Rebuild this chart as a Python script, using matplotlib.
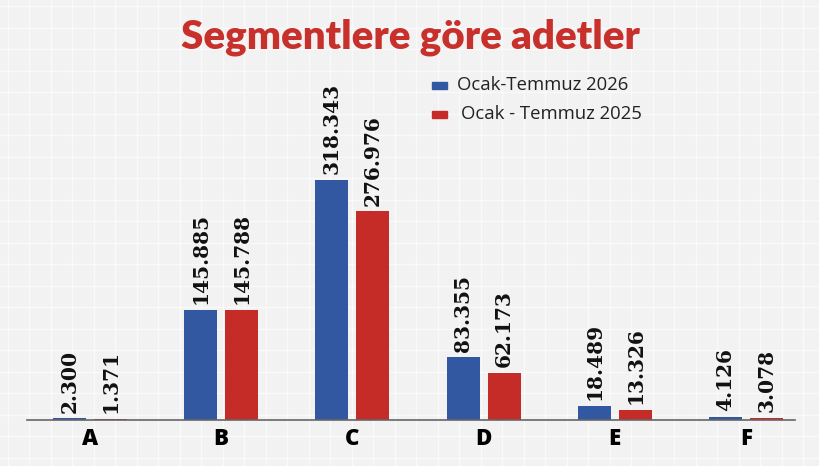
import numpy as np
import matplotlib
matplotlib.use("Agg")
import matplotlib.pyplot as plt
from matplotlib.patches import Rectangle

segments = ["A", "B", "C", "D", "E", "F"]
values_2026 = [2300, 145885, 318343, 83355, 18489, 4126]
values_2025 = [1371, 145788, 276976, 62173, 13326, 3078]
labels_2026 = ["2.300", "145.885", "318.343", "83.355", "18.489", "4.126"]
labels_2025 = ["1.371", "145.788", "276.976", "62.173", "13.326", "3.078"]
series_names = ["Ocak-Temmuz 2026", "Ocak - Temmuz 2025"]
title = "Segmentlere göre adetler"

BLUE = "#3158a1"
RED = "#c52b27"
BG = "#f2f2f2"

plt.rcParams["font.serif"] = ["DejaVu Serif"]

W, H = 820, 466
fig = plt.figure(figsize=(W / 100, H / 100), dpi=100, facecolor=BG)

# graph-paper background
bg = fig.add_axes([0, 0, 1, 1], zorder=0)
bg.set_xlim(0, W)
bg.set_ylim(H, 0)
bg.axis("off")
for gx in np.arange(8, W, 21.5):
    bg.axvline(gx, color="white", lw=1.0, alpha=0.6, zorder=1)
for gy in np.arange(6, H, 21.5):
    bg.axhline(gy, color="white", lw=1.0, alpha=0.6, zorder=1)

# main plot area, in pixel-based figure fractions
left, right, base, top = 27, 795, 420, 60
ax = fig.add_axes([left / W, (H - base) / H, (right - left) / W, (base - top) / H], zorder=1)
ax.patch.set_alpha(0)
ax.set_ylim(0, 477500)
ax.set_xlim(-0.48, 5.373)

x = np.arange(len(segments))
bw = 0.252
off = 0.156
ax.bar(x - off, values_2026, bw, color=BLUE, zorder=2)
ax.bar(x + off, values_2025, bw, color=RED, zorder=2)

pad = 7500
for xs, vals, labs in [(x - off, values_2026, labels_2026), (x + off, values_2025, labels_2025)]:
    for xi, v, lab in zip(xs, vals, labs):
        ax.text(xi, v + pad, lab, rotation=90, ha="center", va="bottom",
                fontsize=14.5, fontweight="bold", family="serif", color="#111111")

for s in ["top", "right", "left"]:
    ax.spines[s].set_visible(False)
ax.spines["bottom"].set_color("#666666")
ax.spines["bottom"].set_linewidth(1.2)
ax.set_yticks([])
ax.set_xticks(x)
ax.set_xticklabels(segments, fontsize=16, fontweight="heavy", family="Open Sans")
ax.tick_params(axis="x", length=0, pad=5)

fig.text(410 / W, 1 - 37 / H, title, ha="center", va="center", color="#c8302c",
         fontsize=29, fontweight="heavy", family="Lato")

# legend
for i, (name, col, tx) in enumerate(zip(series_names, [BLUE, RED], [457, 461])):
    yy = 85 + 29 * i
    bg.add_patch(Rectangle((432, yy - 3.5), 15, 7, color=col, zorder=3))
    bg.text(tx, yy, name, ha="left", va="center", fontsize=13.3, family="Open Sans",
            color="#222222", zorder=3)

fig.savefig("out.png", dpi=100, facecolor=BG)
